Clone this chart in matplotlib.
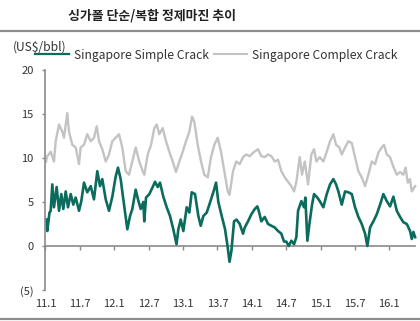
import numpy as np
import matplotlib
matplotlib.use("Agg")
import matplotlib.pyplot as plt
from matplotlib.lines import Line2D

plt.rcParams['font.family'] = ['Noto Sans CJK KR', 'DejaVu Sans']

TITLE = "싱가폴 단순/복합 정제마진 추이"
UNIT = "(US$/bbl)"
SIMPLE_NAME = "Singapore Simple Crack"
COMPLEX_NAME = "Singapore Complex Crack"

# months counted from 2011-01
simple_m = [0.26, 0.31, 0.70, 0.91, 1.19, 1.48, 1.95, 2.36, 2.76, 3.11, 3.53, 3.93, 4.40, 4.85,
            5.27, 5.85, 6.25, 6.72, 7.29, 7.89, 8.46, 9.04, 9.51, 9.91, 10.51, 11.08, 11.66,
            12.25, 12.65, 13.12, 13.58, 14.00, 14.28, 14.75, 15.15, 15.74, 16.14, 16.61, 17.07,
            17.24, 17.54, 18.12, 18.71, 19.11, 19.58, 19.98, 20.56, 21.15, 21.73, 22.30, 22.86,
            23.18, 23.60, 24.05, 24.64, 25.10, 25.51, 26.09, 26.67, 27.09, 27.54, 28.13, 28.59,
            29.28, 29.76, 30.16, 30.75, 31.33, 31.76, 32.11, 32.43, 32.90, 33.33, 33.89, 34.47,
            34.76, 35.34, 35.92, 36.51, 36.96, 37.21, 37.66, 38.25, 38.83, 39.41, 40.00, 40.58,
            41.15, 41.62, 42.02, 42.44, 42.90, 43.37, 43.77, 44.07, 44.64, 45.11, 45.34, 45.69,
            46.11, 46.51, 46.86, 47.43, 47.85, 48.48, 49.07, 49.65, 50.23, 50.70, 51.10, 51.69,
            52.27, 52.84, 53.44, 54.01, 54.59, 55.18, 55.76, 56.16, 56.63, 57.21, 57.80, 58.38,
            58.95, 59.55, 60.12, 60.70, 61.29, 61.87, 62.44, 63.04, 63.61, 63.91, 64.19, 64.49]
simple_v = [3.0, 1.7, 3.8, 4.0, 7.0, 4.4, 6.7, 4.0, 5.9, 4.2, 6.2, 4.4, 5.9, 4.7,
            5.5, 4.0, 5.1, 7.2, 6.1, 6.8, 5.3, 8.5, 6.8, 7.6, 5.3, 4.0, 5.6,
            7.9, 8.9, 7.6, 5.3, 3.3, 1.9, 3.4, 4.2, 6.4, 5.3, 4.2, 5.0,
            2.8, 5.5, 5.9, 6.7, 7.3, 6.7, 7.2, 5.6, 4.4, 3.4, 1.9, 0.2,
            1.9, 3.0, 1.7, 4.4, 3.8, 6.1, 5.9, 3.4, 2.3, 3.4, 3.8, 4.7,
            6.1, 7.2, 5.0, 3.4, 1.9, 0.0, -1.8, -0.6, 2.8, 3.0, 2.5, 1.4,
            2.1, 2.8, 3.6, 4.2, 4.5, 4.0, 2.8, 3.3, 2.5, 2.3, 2.1, 1.7,
            1.4, 0.5, 0.5, 0.0, 0.6, 0.2, 1.0, 4.0, 5.1, 4.4, 5.5, 0.6,
            2.8, 4.7, 5.9, 5.5, 5.1, 4.4, 5.9, 7.0, 7.6, 7.0, 6.2, 4.7,
            6.2, 6.1, 5.9, 4.4, 3.3, 2.5, 1.4, 0.0, 2.1, 2.8, 3.6, 4.7,
            5.9, 5.1, 4.5, 5.6, 4.0, 3.3, 2.7, 2.5, 1.7, 0.8, 1.6, 1.0]

complex_m = [0.09, 0.31, 0.91, 1.48, 1.78, 2.36, 2.93, 3.23, 3.80, 4.10, 4.68, 5.27, 5.85, 6.14,
             6.72, 7.29, 7.89, 8.46, 8.94, 9.34, 9.91, 10.51, 11.08, 11.66, 12.25, 12.83, 13.40,
             14.00, 14.57, 15.15, 15.74, 16.37, 16.96, 17.24, 17.84, 18.42, 18.99, 19.41, 19.86,
             20.45, 21.03, 21.61, 22.20, 22.77, 23.35, 23.94, 24.52, 25.10, 25.57, 25.97, 26.56,
             27.14, 27.71, 28.31, 28.88, 29.46, 30.05, 30.63, 31.20, 31.80, 32.11, 32.72, 33.30,
             33.89, 34.47, 35.04, 35.64, 36.21, 37.09, 37.66, 38.25, 38.83, 39.41, 40.00, 40.58,
             41.15, 41.75, 42.32, 42.90, 43.37, 43.77, 44.36, 44.76, 45.24, 45.81, 46.39, 46.86,
             47.26, 47.85, 48.48, 49.07, 49.65, 50.23, 50.70, 51.27, 51.69, 52.27, 52.84, 53.44,
             54.01, 54.59, 55.18, 55.76, 56.33, 56.93, 57.50, 58.08, 58.67, 59.07, 59.55, 60.12,
             60.70, 61.29, 61.87, 62.44, 62.83, 63.21, 63.59, 63.91, 64.49]
complex_v = [9.6, 10.2, 10.7, 9.6, 11.9, 13.8, 13.0, 12.3, 15.1, 13.0, 11.5, 11.2, 9.3, 11.2,
             11.5, 12.7, 11.9, 12.3, 13.6, 11.9, 11.0, 9.6, 10.4, 11.9, 12.3, 12.7, 11.2,
             8.5, 8.1, 9.6, 11.2, 9.6, 8.5, 8.1, 10.4, 11.5, 13.4, 13.8, 12.7,
             13.4, 11.9, 10.7, 9.6, 8.4, 9.6, 10.7, 11.9, 13.0, 14.7, 14.1, 11.5,
             9.6, 8.1, 7.8, 10.1, 11.5, 12.3, 10.7, 8.5, 6.2, 5.8, 8.5, 9.6,
             9.3, 10.1, 10.4, 10.2, 10.6, 11.0, 10.2, 10.1, 10.4, 10.2, 9.6, 9.8,
             8.5, 7.8, 7.3, 6.8, 6.2, 7.3, 10.1, 8.1, 9.6, 7.0, 10.4, 11.0,
             9.6, 10.1, 9.6, 10.7, 11.9, 12.7, 11.5, 11.2, 10.4, 11.2, 11.9, 11.7,
             10.1, 8.5, 7.8, 6.8, 8.1, 9.6, 9.3, 10.6, 11.2, 11.5, 10.4, 10.1,
             9.0, 8.1, 8.4, 8.1, 8.9, 7.2, 7.6, 6.2, 6.8]

tick_months = [0, 6, 12, 18, 24, 30, 36, 42, 48, 54, 60]
tick_labels = ["11.1", "11.7", "12.1", "12.7", "13.1", "13.7", "14.1", "14.7", "15.1", "15.7", "16.1"]
y_ticks = [-5, 0, 5, 10, 15, 20]
y_labels = ["(5)", "0", "5", "10", "15", "20"]

GREEN = "#0b6b5c"
GREY = "#c3c3c3"
AXIS = "#8a8a8a"
TXT = "#333333"

fig = plt.figure(figsize=(4.20, 3.21), dpi=100)
ax = fig.add_axes([0.1083, 0.0966, 0.887, 0.6854])

ax.plot(complex_m, complex_v, color=GREY, lw=1.7, zorder=2)
ax.plot(simple_m, simple_v, color=GREEN, lw=1.9, zorder=3)

ax.set_xlim(0, 65)
ax.set_ylim(-5, 20)

for s in ("top", "right"):
    ax.spines[s].set_visible(False)
ax.spines["left"].set_color(AXIS)
ax.spines["left"].set_linewidth(1.2)
ax.spines["bottom"].set_position(("data", 0))
ax.spines["bottom"].set_bounds(0, 64.5)
ax.spines["bottom"].set_color(AXIS)
ax.spines["bottom"].set_linewidth(1.2)

ax.set_yticks(y_ticks)
ax.set_yticklabels(y_labels)
ax.set_xticks(tick_months)
ax.set_xticklabels(tick_labels)
ax.tick_params(axis="y", direction="out", length=2.5, width=1.0, color=AXIS,
               labelsize=8, labelcolor=TXT, pad=6)
ax.tick_params(axis="x", direction="out", length=3, width=1.0, color=AXIS,
               labelsize=8, labelcolor=TXT, pad=35)

# legend row with unit label
fig.text(13 / 420, 1 - 47 / 321, UNIT, fontsize=8.7, color=TXT, va="center", ha="left")
handles = [Line2D([], [], color=GREEN, lw=1.6), Line2D([], [], color=GREY, lw=1.5)]
fig.legend(handles, [SIMPLE_NAME, COMPLEX_NAME], ncol=2, frameon=False,
           loc="center left", bbox_to_anchor=(35 / 420, 1 - 55 / 321),
           fontsize=8.7, handlelength=2.8, handletextpad=0.4, columnspacing=0.4,
           borderpad=0, borderaxespad=0, labelcolor=TXT)

fig.text(68 / 420, 1 - 15 / 321, TITLE, fontsize=9.3, fontweight="bold", color="#222222",
         va="center", ha="left")

fig.add_artist(Line2D([0, 1], [1 - 30.5 / 321, 1 - 30.5 / 321], color="#8c8c8c", lw=1.6))
fig.add_artist(Line2D([0, 1], [1 - 319 / 321, 1 - 319 / 321], color="#8c8c8c", lw=1.6))

fig.savefig("out.png", dpi=100)
